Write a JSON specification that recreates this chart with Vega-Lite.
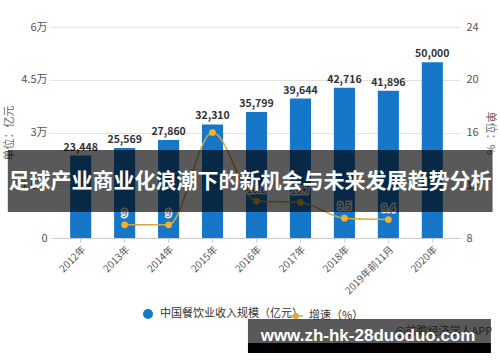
{
  "$schema": "https://vega.github.io/schema/vega-lite/v6.json",
  "width": 407,
  "height": 211,
  "autosize": {"type": "none"},
  "padding": {"left": 53, "top": 27, "right": 40, "bottom": 124},
  "background": "white",
  "config": {"view": {"stroke": null}, "font": "Noto Sans CJK SC"},
  "datasets": {
    "main": [
      {"year": "2012年", "revenue": 23448, "growth": null},
      {"year": "2013年", "revenue": 25569, "growth": 9.0},
      {"year": "2014年", "revenue": 27860, "growth": 9.0},
      {"year": "2015年", "revenue": 32310, "growth": 16.0},
      {"year": "2016年", "revenue": 35799, "growth": 10.8},
      {"year": "2017年", "revenue": 39644, "growth": 10.7},
      {"year": "2018年", "revenue": 42716, "growth": 9.5},
      {"year": "2019年前11月", "revenue": 41896, "growth": 9.4},
      {"year": "2020年", "revenue": 50000, "growth": null}
    ],
    "overlay": [
      {"part": "src", "ox": 107.9, "ox2": 107.9, "oy": -44.5, "oy2": -44.5, "label": "@前瞻经济学人APP"},
      {"part": "banner", "ox": -11.1, "ox2": 108.0, "oy": 41.7, "oy2": 12.3, "label": ""},
      {"part": "banner", "ox": 47.9, "ox2": 107.6, "oy": -38.4, "oy2": -49.8, "label": ""},
      {"part": "strip", "ox": 47.9, "ox2": 107.6, "oy": -49.8, "oy2": -54.5, "label": ""},
      {"part": "title", "ox": 48.4, "ox2": 48.4, "oy": 26.5, "oy2": 26.5, "label": "足球产业商业化浪潮下的新机会与未来发展趋势分析"},
      {"part": "url", "ox": 77.4, "ox2": 77.4, "oy": -48.8, "oy2": -48.8, "label": "www.zh-hk-28duoduo.com"}
    ]
  },
  "layer": [
    {
      "data": {"name": "main"},
      "encoding": {
        "x": {
          "field": "year",
          "type": "ordinal",
          "sort": null,
          "scale": {"paddingInner": 0.52, "paddingOuter": 0.39},
          "axis": {
            "title": null,
            "labelAngle": -45,
            "labelFontSize": 10,
            "labelColor": "#555",
            "tickColor": "#ccc",
            "tickSize": 4,
            "domainColor": "#ccc",
            "labelPadding": 2,
            "zindex": 0
          }
        }
      },
      "layer": [
        {
          "encoding": {
            "y": {
              "field": "revenue",
              "type": "quantitative",
              "scale": {"domain": [0, 60000], "nice": false},
              "axis": {
                "title": "单位：亿元",
                "values": [0, 15000, 30000, 45000, 60000],
                "labelExpr": "datum.value == 0 ? '0' : format(datum.value / 10000, '~g') + '万'",
                "grid": true,
                "gridColor": "#e2e2e2",
                "ticks": true,
                "tickColor": "#e2e2e2",
                "tickSize": 4,
                "domain": false,
                "labelColor": "#555",
                "labelFontSize": 11,
                "labelPadding": 2,
                "titleColor": "#666",
                "titleFontSize": 11,
                "titleFontWeight": "normal",
                "titlePadding": 6,
                "zindex": 0
              }
            }
          },
          "layer": [
            {
              "mark": {"type": "bar"},
              "encoding": {
                "color": {
                  "datum": "中国餐饮业收入规模（亿元）",
                  "type": "nominal",
                  "scale": {"range": ["#1677c8"]},
                  "legend": {
                    "orient": "none",
                    "legendX": 89,
                    "legendY": 281,
                    "title": null,
                    "symbolType": "circle",
                    "symbolSize": 100,
                    "labelFontSize": 11,
                    "labelColor": "#333",
                    "labelOffset": 6,
                    "padding": 0
                  }
                }
              }
            },
            {
              "mark": {"type": "text", "baseline": "bottom", "dy": -3, "fontSize": 10.5, "fontWeight": "bold", "fill": "#333"},
              "encoding": {"text": {"field": "revenue", "type": "quantitative", "format": ","}}
            }
          ]
        },
        {
          "transform": [{"filter": "isValid(datum.growth)"}],
          "encoding": {
            "y": {
              "field": "growth",
              "type": "quantitative",
              "scale": {"domain": [8, 24], "nice": false, "zero": false},
              "axis": {
                "orient": "right",
                "title": "单位：%",
                "values": [8, 12, 16, 20, 24],
                "grid": false,
                "ticks": false,
                "domain": false,
                "labelColor": "#555",
                "labelFontSize": 11,
                "labelPadding": 6,
                "titleColor": "#666",
                "titleFontSize": 11,
                "titleFontWeight": "normal",
                "titlePadding": 6,
                "zindex": 0
              }
            }
          },
          "layer": [
            {
              "mark": {"type": "line", "interpolate": "monotone", "strokeWidth": 1.5},
              "encoding": {
                "stroke": {
                  "datum": "增速（%）",
                  "type": "nominal",
                  "scale": {"range": ["#d9a83c"]},
                  "legend": {
                    "orient": "none",
                    "legendX": 235,
                    "legendY": 281,
                    "title": null,
                    "symbolType": "M-1,0H1M0.32,0A0.32,0.32,0,1,1,-0.32,0A0.32,0.32,0,1,1,0.32,0Z",
                    "symbolSize": 196,
                    "symbolFillColor": "#f2b22e",
                    "symbolStrokeWidth": 1.5,
                    "labelFontSize": 11,
                    "labelColor": "#333",
                    "labelOffset": 5,
                    "padding": 0
                  }
                }
              }
            },
            {
              "mark": {"type": "point", "filled": true, "color": "#f2b22e", "size": 45, "opacity": 1}
            },
            {
              "transform": [{"filter": "datum.year != '2015年'"}],
              "mark": {"type": "text", "baseline": "bottom", "dy": -6, "fontSize": 10, "stroke": "white", "strokeWidth": 3, "strokeOpacity": 0.9, "fill": "white"},
              "encoding": {"text": {"field": "growth", "type": "quantitative", "format": ".1~f"}}
            },
            {
              "transform": [{"filter": "datum.year != '2015年'"}],
              "mark": {"type": "text", "baseline": "bottom", "dy": -6, "fontSize": 10, "fill": "#555"},
              "encoding": {"text": {"field": "growth", "type": "quantitative", "format": ".1~f"}}
            }
          ]
        }
      ],
      "resolve": {"scale": {"y": "independent"}}
    },
    {
      "data": {"name": "overlay"},
      "encoding": {
        "x": {"field": "ox", "type": "quantitative", "scale": {"domain": [0, 100], "nice": false, "zero": false}, "axis": null},
        "y": {"field": "oy", "type": "quantitative", "scale": {"domain": [0, 100], "nice": false, "zero": false}, "axis": null}
      },
      "layer": [
        {
          "transform": [{"filter": "datum.part == 'src'"}],
          "mark": {"type": "text", "align": "right", "baseline": "middle", "fontSize": 11, "fill": "#666"},
          "encoding": {"text": {"field": "label"}}
        },
        {
          "transform": [{"filter": "datum.part == 'banner'"}],
          "mark": {"type": "rect", "fill": "black", "opacity": 0.65},
          "encoding": {"x2": {"field": "ox2"}, "y2": {"field": "oy2"}}
        },
        {
          "transform": [{"filter": "datum.part == 'strip'"}],
          "mark": {"type": "rect", "fill": "black", "opacity": 1},
          "encoding": {"x2": {"field": "ox2"}, "y2": {"field": "oy2"}}
        },
        {
          "transform": [{"filter": "datum.part == 'title'"}],
          "mark": {"type": "text", "align": "center", "baseline": "middle", "fontSize": 21, "fontWeight": "bold", "fill": "white"},
          "encoding": {"text": {"field": "label"}}
        },
        {
          "transform": [{"filter": "datum.part == 'url'"}],
          "mark": {"type": "text", "align": "center", "baseline": "alphabetic", "font": "Liberation Sans", "fontSize": 17, "fontWeight": "bold", "fill": "white"},
          "encoding": {"text": {"field": "label"}}
        }
      ]
    }
  ],
  "resolve": {"scale": {"x": "independent", "y": "independent"}}
}
